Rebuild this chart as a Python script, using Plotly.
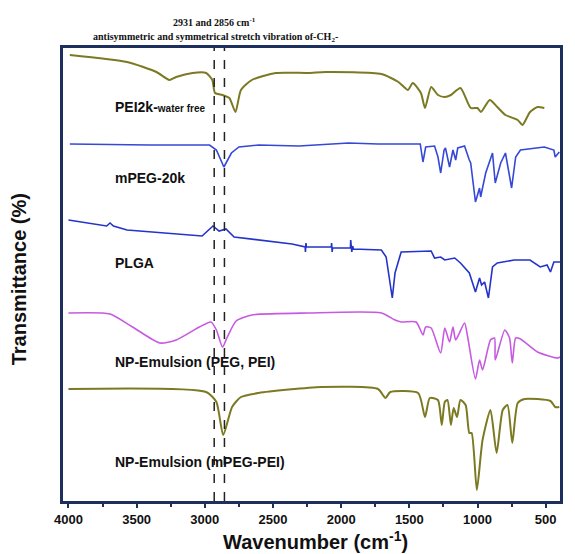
import plotly.graph_objects as go

# FTIR spectra, stacked with vertical offsets (arbitrary transmittance units)

pei_wn = [3990, 3570, 3355, 3260, 3210, 3090, 2990, 2945, 2925, 2870, 2820, 2775,
          2735, 2655, 2480, 2240, 2115, 1705, 1580, 1510, 1475, 1415, 1385, 1340,
          1290, 1240, 1195, 1125, 1050, 1000, 975, 910, 855, 795, 705, 670, 615,
          560, 510]
pei_t = [446, 439, 429, 421, 424, 428, 428, 421, 408, 406, 403, 389,
         411, 421, 428, 428, 429, 427, 419, 411, 418, 408, 393, 414,
         406, 404, 406, 413, 393, 393, 389, 401, 394, 386, 381, 376, 389,
         394, 393]

mpeg_wn = [3990, 3405, 2965, 2915, 2860, 2805, 2750, 2605, 2310, 1945, 1730, 1420,
           1400, 1380, 1315, 1290, 1270, 1245, 1235, 1205, 1180, 1160, 1145, 1095,
           1060, 1050, 1015, 985, 977, 940, 890, 870, 830, 795, 750, 720, 685,
           560, 510, 440, 430, 400]
mpeg_t = [357, 356, 356, 351, 334, 348, 354, 356, 355, 358, 357, 357,
          339, 354, 355, 344, 328, 351, 353, 334, 351, 341, 353, 355,
          341, 338, 299, 313, 304, 328, 348, 318, 338, 348, 313, 344, 351,
          353, 354, 351, 344, 349]

plga_wn = [4000, 3770, 3720, 3695, 3670, 3570, 3020, 2940, 2895, 2845, 2785, 2360,
           2264, 2262, 2258, 2255, 2072, 2070, 2066, 2063, 1932, 1930, 1922, 1916,
           1910, 1705, 1670, 1640, 1625, 1605, 1560, 1340, 1315, 1270, 1240, 1167,
           1125, 1060, 1015, 985, 970, 948, 920, 890, 855, 730, 615, 540, 490, 465,
           440, 395]
plga_t = [281, 276, 275, 278, 275, 271, 265, 275, 270, 272, 264, 257,
          254, 249, 258, 254, 254, 258, 249, 253, 253, 261, 249, 255,
          252, 251, 244, 218, 203, 228, 249, 250, 243, 244, 241, 243,
          238, 228, 209, 223, 216, 219, 203, 234, 238, 241, 241, 234, 236, 229,
          239, 239]

npeg_wn = [4000, 3695, 3530, 3330, 3210, 3040, 2955, 2915, 2870, 2835, 2770, 2655,
           2240, 1705, 1605, 1560, 1450, 1400, 1380, 1340, 1270, 1240, 1205, 1180,
           1160, 1095, 1072, 1015, 985, 963, 905, 875, 870, 800, 765, 745, 720,
           685, 560, 415, 395]
npeg_t = [188, 187, 174, 158, 161, 174, 179, 171, 154, 164, 180, 186,
          188, 188, 181, 179, 179, 166, 174, 173, 148, 173, 159, 174,
          161, 178, 164, 122, 141, 131, 161, 163, 141, 171, 163, 138, 163,
          162, 149, 143, 144]

npmp_wn = [4000, 2990, 2915, 2865, 2800, 2735, 2605, 2145, 1730, 1675, 1640, 1435,
           1385, 1350, 1290, 1262, 1240, 1220, 1195, 1175, 1150, 1125, 1087, 1060,
           1043, 1005, 963, 905, 860, 815, 780, 745, 705, 655, 465, 430, 400]
npmp_t = [112, 109, 99, 66, 94, 104, 108, 114, 112, 103, 109, 108,
          84, 103, 101, 76, 99, 101, 76, 93, 84, 101, 96, 68,
          68, 11, 61, 91, 48, 91, 96, 58, 98, 102, 100, 94, 94]

# CH2 stretch band positions (cm-1)
ch2_bands = [2931, 2856]

tick_vals = [4000, 3500, 3000, 2500, 2000, 1500, 1000, 500]

series = [
    ("PEI2k-water free", pei_wn, pei_t, "#7b7a22", 2.0, "spline"),
    ("mPEG-20k", mpeg_wn, mpeg_t, "#3548d6", 1.6, "linear"),
    ("PLGA", plga_wn, plga_t, "#2433c8", 1.6, "linear"),
    ("NP-Emulsion (PEG, PEI)", npeg_wn, npeg_t, "#c65ae0", 1.6, "spline"),
    ("NP-Emulsion (mPEG-PEI)", npmp_wn, npmp_t, "#7b7a22", 2.0, "spline"),
]

fig = go.Figure()
for name, wn, t, color, width, shape in series:
    line = dict(color=color, width=width, shape=shape)
    if shape == "spline":
        line["smoothing"] = 0.6
    fig.add_trace(go.Scatter(x=wn, y=t, mode="lines", name=name,
                             line=line, showlegend=False))

for band in ch2_bands:
    fig.add_shape(type="line", xref="x", yref="paper", x0=band, x1=band,
                  y0=0, y1=1, line=dict(color="#222222", width=1.5, dash="dash"))

sans = "Liberation Sans, Arial, sans-serif"
label_font = dict(family=sans, size=14, color="#111111", weight="bold")
labels = [
    ("PEI2k-<span style='font-size:10px'>water free</span>", 394),
    ("mPEG-20k", 323),
    ("PLGA", 238),
    ("NP-Emulsion (PEG, PEI)", 139),
    ("NP-Emulsion (mPEG-PEI)", 39),
]
for text, yv in labels:
    fig.add_annotation(x=3675, y=yv, xref="x", yref="y", text=text,
                       showarrow=False, xanchor="left", yanchor="middle",
                       font=label_font)

serif = dict(family="Liberation Serif, Times New Roman, serif", size=10,
             color="#111111", weight="bold")
fig.add_annotation(x=0.304, y=1.057, xref="paper", yref="paper",
                   text="2931 and 2856 cm<sup>-1</sup>", showarrow=False,
                   xanchor="center", yanchor="middle", font=serif)
fig.add_annotation(x=0.306, y=1.024, xref="paper", yref="paper",
                   text="antisymmetric and symmetrical stretch vibration of-CH<sub>2</sub>-",
                   showarrow=False, xanchor="center", yanchor="middle", font=serif)

title_font = dict(family=sans, size=20, color="#111111", weight="bold")
fig.add_annotation(x=0.508, y=-0.088, xref="paper", yref="paper",
                   text="Wavenumber (cm<sup>-1</sup>)", showarrow=False,
                   xanchor="center", yanchor="middle", font=title_font)
fig.add_annotation(x=-0.088, y=0.49, xref="paper", yref="paper",
                   text="Transmittance (%)", showarrow=False, textangle=-90,
                   xanchor="center", yanchor="middle", font=title_font)

frame = "#1d2f5c"
fig.update_xaxes(
    range=[4040, 395], tickmode="array", tickvals=tick_vals,
    ticks="outside", ticklen=4, tickwidth=1.5, tickcolor=frame,
    minor=dict(tickvals=[3750, 3250, 2750, 2250, 1750, 1250, 750],
               ticks="outside", ticklen=3, tickcolor=frame),
    showline=True, linecolor=frame, linewidth=3, mirror=True,
    showgrid=False, zeroline=False,
    tickfont=dict(family=sans, size=13, color="#111111", weight="bold"),
)
fig.update_yaxes(
    range=[0, 453], showticklabels=False, ticks="",
    showline=True, linecolor=frame, linewidth=3, mirror=True,
    showgrid=False, zeroline=False,
)
fig.update_layout(
    width=575, height=554,
    margin=dict(l=63, r=12, t=48, b=53),
    paper_bgcolor="white", plot_bgcolor="white",
)

fig.write_html("out.html")
